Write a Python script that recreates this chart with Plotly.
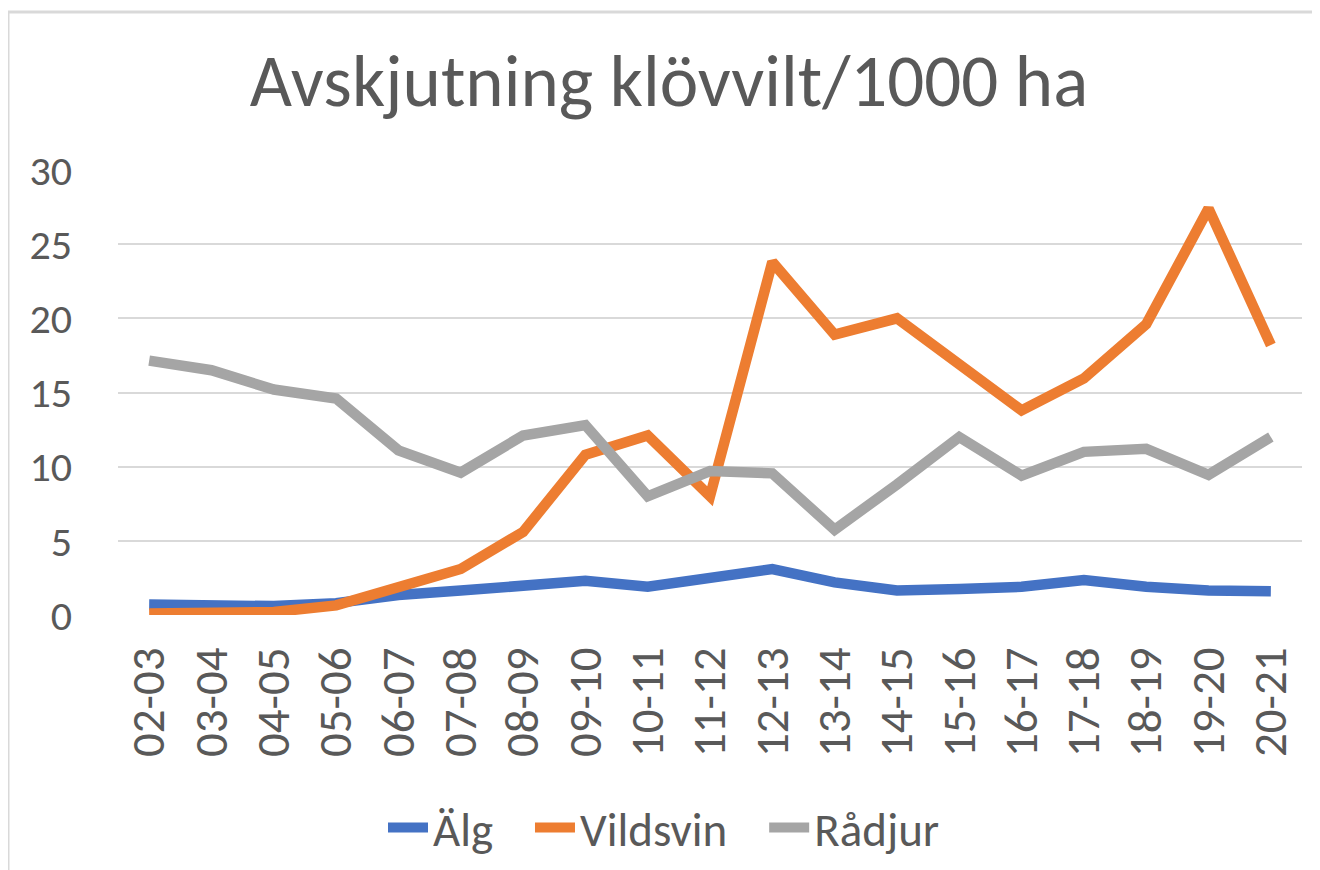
import plotly.graph_objects as go

categories = ["02-03", "03-04", "04-05", "05-06", "06-07", "07-08", "08-09", "09-10",
              "10-11", "11-12", "12-13", "13-14", "14-15", "15-16", "16-17", "17-18",
              "18-19", "19-20", "20-21"]
alg = [0.7, 0.7, 0.6, 0.8, 1.35, 1.65, 2.0, 2.3, 1.9, 2.5, 3.1, 2.2, 1.65, 1.75, 1.9, 2.35, 1.9, 1.65, 1.6]
vildsvin = [0.1, 0.1, 0.2, 0.65, 1.95, 3.1, 5.6, 10.8, 12.1, 8.0, 23.8, 18.9, 20.0, 17.0, 13.8, 15.95, 19.6, 27.4, 18.2]
radjur = [17.15, 16.5, 15.2, 14.6, 11.1, 9.6, 12.1, 12.8, 8.0, 9.7, 9.55, 5.75, 8.8, 12.0, 9.4, 11.0, 11.2, 9.45, 12.0]

series_names = ["Älg", "Vildsvin", "Rådjur"]
series_values = [alg, vildsvin, radjur]
series_colors = ["#4472C4", "#ED7D31", "#A5A5A5"]

FONT = "Carlito, Lato, sans-serif"
TXT = "#595959"
PAD = "\u00a0\u00a0\u00a0"

fig = go.Figure()
for name, vals, col in zip(series_names, series_values, series_colors):
    fig.add_trace(go.Scatter(
        x=categories, y=vals, name=name + PAD, mode="lines",
        line=dict(color=col, width=10.5),
    ))

# page body has an 8px margin: figure coords = screen coords - 8
OFF = 8
W, H = 1320, 870
L, T = 118 - OFF, 170 - OFF
R = W - (1302 - OFF)
B = H - (615 - OFF)
pw, ph = W - L - R, H - T - B

def px_x(px):
    return (px - OFF - L) / pw

def px_y(py):
    return (H - B - (py - OFF)) / ph

fig.update_layout(
    width=W, height=H,
    margin=dict(l=L, r=R, t=T, b=B),
    paper_bgcolor="white", plot_bgcolor="white",
    font=dict(family=FONT, color=TXT, size=40),
    title=dict(text="Avskjutning klövvilt/1000 ha", x=(669 - OFF) / W, xref="container",
               y=1 - (80 - OFF) / H, yref="container", xanchor="center", yanchor="middle",
               font=dict(size=73, color=TXT, family=FONT)),
    showlegend=True,
    legend=dict(orientation="h", x=(680 - OFF) / W, xref="container", xanchor="center",
                y=1 - (828 - OFF) / H, yref="container", yanchor="middle",
                font=dict(size=47, color=TXT, family=FONT),
                itemwidth=40, tracegroupgap=0),
    xaxis=dict(type="category", range=[-0.5, len(categories) - 0.5],
               tickangle=-90, showgrid=False, showline=False,
               ticks="", ticklabelstandoff=22,
               tickfont=dict(size=47, color=TXT, family=FONT)),
    yaxis=dict(range=[0, 30], dtick=5, tick0=0, showgrid=True, gridcolor="#D9D9D9",
               gridwidth=2, zeroline=False, showline=False, ticks="",
               ticklabelstandoff=45,
               tickfont=dict(size=42, color=TXT, family=FONT)),
    shapes=[
        dict(type="line", xref="paper", yref="paper", x0=px_x(8), x1=px_x(8),
             y0=px_y(12), y1=px_y(880), line=dict(color="#D9D9D9", width=3), layer="below"),
        dict(type="line", xref="paper", yref="paper", x0=px_x(8), x1=px_x(1330),
             y0=px_y(12), y1=px_y(12), line=dict(color="#D9D9D9", width=3), layer="below"),
    ],
)

fig.write_html("out.html")
